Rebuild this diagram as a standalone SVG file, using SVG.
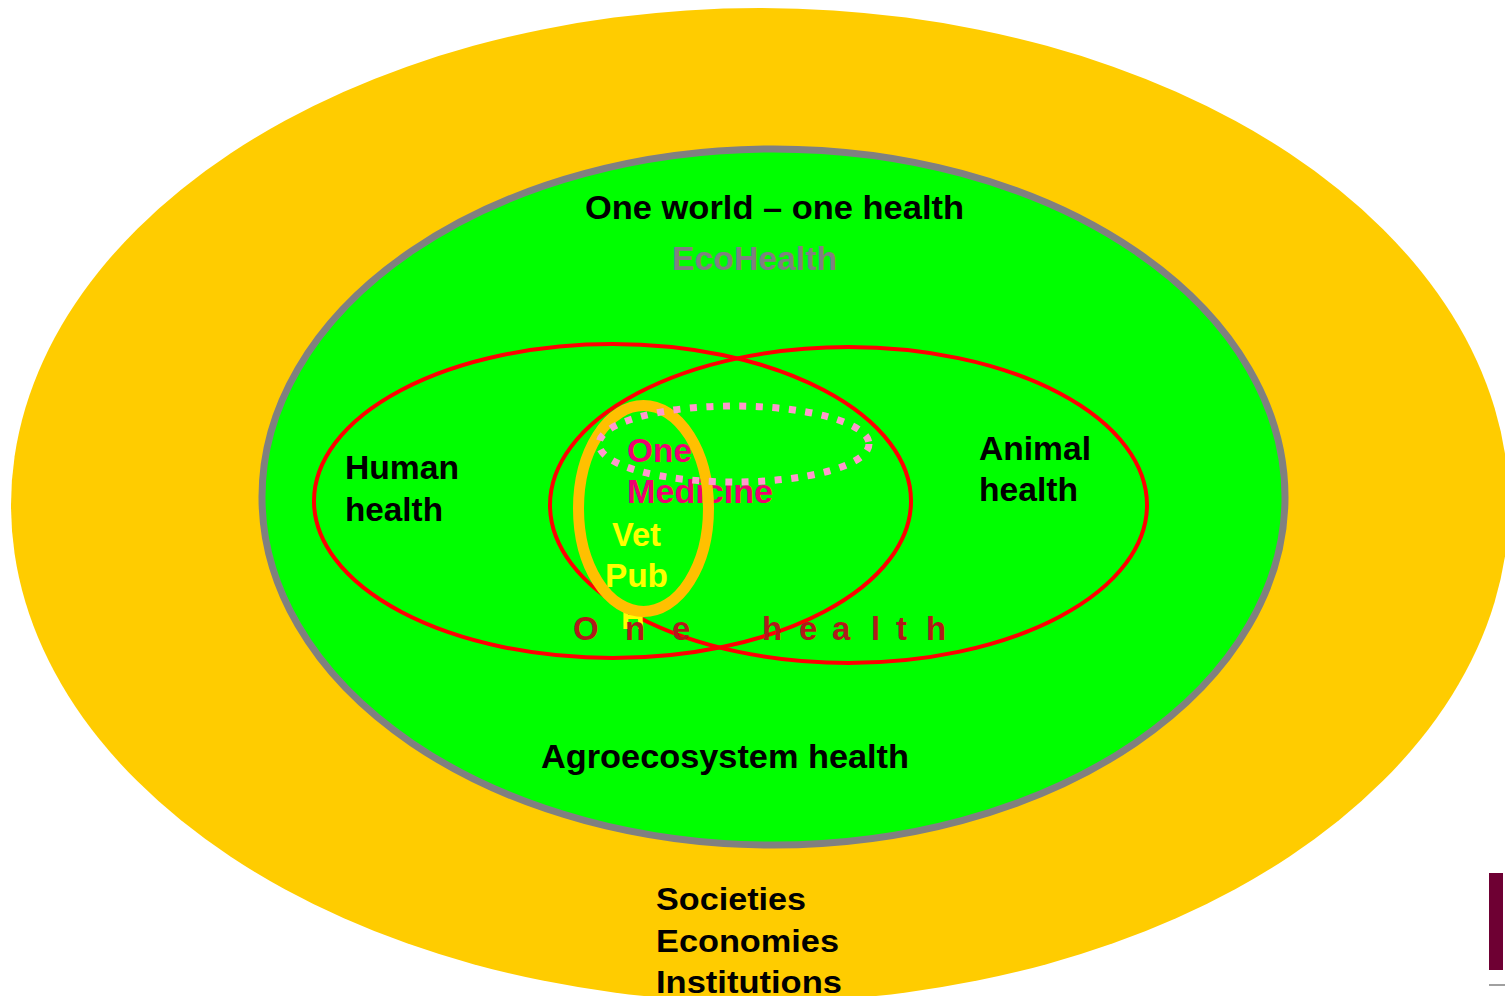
<svg xmlns="http://www.w3.org/2000/svg" width="1505" height="996" viewBox="0 0 1505 996">
<style>
.t{font-family:"Liberation Sans",Arial,sans-serif;font-weight:bold;font-size:33px;}
.blk{fill:#000000;}
.red{fill:none;stroke:#FF0000;stroke-width:4;}
</style>
<rect x="0" y="0" width="1505" height="996" fill="#FFFFFF"/>
<g id="societies">
  <ellipse cx="760" cy="505" rx="749" ry="497" fill="#FFCC00"/>
  <text class="t blk" style="font-size:31px" x="656" y="910" textLength="150" lengthAdjust="spacingAndGlyphs">Societies</text>
  <text class="t blk" style="font-size:31px" x="656" y="952" textLength="183" lengthAdjust="spacingAndGlyphs">Economies</text>
  <text class="t blk" style="font-size:31px" x="656" y="993" textLength="186" lengthAdjust="spacingAndGlyphs">Institutions</text>
</g>
<g id="ecohealth">
  <ellipse cx="773.5" cy="497" rx="511.5" ry="348" fill="#00FF00" stroke="#808080" stroke-width="7"/>
  <text class="t blk" style="font-size:34px" x="585" y="219" textLength="379" lengthAdjust="spacingAndGlyphs">One world – one health</text>
  <text class="t" style="font-size:34px" fill="#808080" x="672" y="270" textLength="165" lengthAdjust="spacingAndGlyphs">EcoHealth</text>
  <text class="t blk" x="541" y="768" textLength="368" lengthAdjust="spacingAndGlyphs">Agroecosystem health</text>
</g>
<g id="human-health">
  <ellipse class="red" cx="612.5" cy="501" rx="298.5" ry="157"/>
  <text class="t blk" x="345" y="479" textLength="114" lengthAdjust="spacingAndGlyphs">Human</text>
  <text class="t blk" x="345" y="521" textLength="98" lengthAdjust="spacingAndGlyphs">health</text>
</g>
<g id="animal-health">
  <ellipse class="red" cx="848.5" cy="505" rx="298.5" ry="158"/>
  <text class="t blk" x="979" y="460" textLength="112" lengthAdjust="spacingAndGlyphs">Animal</text>
  <text class="t blk" x="979" y="501" textLength="99" lengthAdjust="spacingAndGlyphs">health</text>
</g>
<g id="one-medicine-text">
  <text class="t" fill="#F00070" x="627" y="462" textLength="65" lengthAdjust="spacingAndGlyphs">One</text>
  <text class="t" fill="#F00070" x="627" y="503" textLength="146" lengthAdjust="spacingAndGlyphs">Medicine</text>
</g>
<g id="vet-public-health">
  <text class="t" fill="#FFFF00" x="612" y="546" textLength="49" lengthAdjust="spacingAndGlyphs">Vet</text>
  <text class="t" fill="#FFFF00" x="605" y="587" textLength="63" lengthAdjust="spacingAndGlyphs">Pub</text>
  <text class="t" fill="#FFFF00" x="621" y="629">H</text>
  <ellipse cx="643.5" cy="508.5" rx="65" ry="103" fill="none" stroke="#FFC000" stroke-width="11"/>
</g>
<g id="one-medicine">
  <ellipse cx="734" cy="444" rx="135" ry="38" fill="none" stroke="#FF99CC" stroke-width="7" stroke-dasharray="7 9.5"/>
</g>
<g id="one-health">
  <text class="t" fill="#B01A1A" x="573 625 672 700 762 799 832 871 896 926" y="640">One health</text>
</g>
<g id="connectors"></g>
<g id="corner-mark">
  <rect x="1489" y="873" width="14" height="97" fill="#6E0033"/>
  <rect x="1489" y="984" width="16" height="2" fill="#A0A0A0"/>
</g>
</svg>
